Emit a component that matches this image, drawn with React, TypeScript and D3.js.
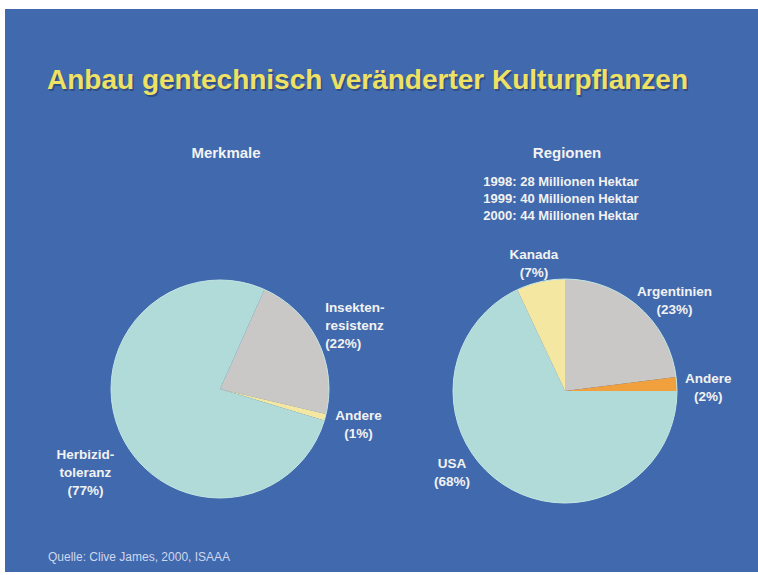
import * as d3 from "d3";
import { useEffect, useRef } from "react";

// Merkmale (left pie)
const merkmaleLabels = ["Insekten-\nresistenz", "Andere", "Herbizid-\ntoleranz"];
const merkmaleValues = [22, 1, 77];
const merkmaleColors = ["#c9c8c6", "#f4e7a2", "#b0dbd8"];

// Regionen (right pie)
const regionenLabels = ["Argentinien", "Andere", "USA", "Kanada"];
const regionenValues = [23, 2, 68, 7];
const regionenColors = ["#c9c8c6", "#f0a03c", "#b0dbd8", "#f4e7a2"];

const hektarLines = [
  "1998: 28 Millionen Hektar",
  "1999: 40 Millionen Hektar",
  "2000: 44 Millionen Hektar",
];

const title = "Anbau gentechnisch veränderter Kulturpflanzen";
const source = "Quelle: Clive James, 2000, ISAAA";

const W = 758;
const H = 575;
const rad = (deg: number) => (deg * Math.PI) / 180;

const App = () => {
  const ref = useRef<SVGSVGElement>(null);

  useEffect(() => {
    const svg = d3.select(ref.current);
    svg.selectAll("*").remove();

    svg.append("rect").attr("width", W).attr("height", H).attr("fill", "#ffffff");
    svg.append("rect")
      .attr("x", 5).attr("y", 9)
      .attr("width", W - 5).attr("height", 563)
      .attr("fill", "#4169ad");

    const font = "'Liberation Sans', Arial, sans-serif";

    svg.append("text")
      .attr("x", 47).attr("y", 89)
      .attr("font-family", font).attr("font-weight", "bold").attr("font-size", 28)
      .attr("fill", "#22335a").attr("opacity", 0.5)
      .attr("transform", "translate(1.5,1.5)")
      .text(title);
    svg.append("text")
      .attr("x", 47).attr("y", 89)
      .attr("font-family", font).attr("font-weight", "bold").attr("font-size", 28)
      .attr("fill", "#efe163")
      .text(title);

    const drawPie = (opts: {
      cx: number; cy: number; r: number; start: number;
      labels: string[]; values: number[]; colors: string[];
      place: { da: number; rf: number; anchor?: string }[];
    }) => {
      const pie = d3.pie<number>().sort(null).value(d => d)
        .startAngle(rad(opts.start)).endAngle(rad(opts.start) + 2 * Math.PI);
      const arcs = pie(opts.values);
      const arc = d3.arc<d3.PieArcDatum<number>>().innerRadius(0).outerRadius(opts.r);
      const g = svg.append("g").attr("transform", `translate(${opts.cx},${opts.cy})`);
      g.selectAll("path").data(arcs).enter().append("path")
        .attr("d", arc)
        .attr("fill", (_, i) => opts.colors[i]);
      g.append("circle").attr("r", opts.r).attr("fill", "none")
        .attr("stroke", "#c4e6e4").attr("stroke-width", 1);

      arcs.forEach((a, i) => {
        const mid = (a.startAngle + a.endAngle) / 2 + rad(opts.place[i].da);
        const R = opts.r * opts.place[i].rf;
        const lines = (opts.labels[i] + "\n(" + opts.values[i] + "%)").split("\n");
        const x = Math.sin(mid) * R;
        const y = -Math.cos(mid) * R;
        const lh = 18;
        const t = g.append("text")
          .attr("font-family", font).attr("font-weight", "bold").attr("font-size", 13.5)
          .attr("fill", "#f2f2f2").attr("text-anchor", opts.place[i].anchor ?? "middle");
        lines.forEach((l, j) => {
          t.append("tspan").attr("x", x)
            .attr("y", y + (j - (lines.length - 1) / 2) * lh + 5)
            .text(l);
        });
      });
    };

    drawPie({
      cx: 220, cy: 389, r: 109, start: 24,
      labels: merkmaleLabels, values: merkmaleValues, colors: merkmaleColors,
      place: [{ da: -5, rf: 1.13, anchor: "start" }, { da: -1, rf: 1.31 }, { da: -7, rf: 1.45 }],
    });
    drawPie({
      cx: 565, cy: 391, r: 112, start: 0,
      labels: regionenLabels, values: regionenValues, colors: regionenColors,
      place: [{ da: 9, rf: 1.27 }, { da: 2, rf: 1.28 }, { da: 22, rf: 1.24 }, { da: -1, rf: 1.18 }],
    });

    svg.append("text")
      .attr("x", 226).attr("y", 158)
      .attr("font-family", font).attr("font-weight", "bold").attr("font-size", 15)
      .attr("fill", "#f2f2f2").attr("text-anchor", "middle")
      .text("Merkmale");
    svg.append("text")
      .attr("x", 567).attr("y", 158)
      .attr("font-family", font).attr("font-weight", "bold").attr("font-size", 15)
      .attr("fill", "#f2f2f2").attr("text-anchor", "middle")
      .text("Regionen");

    hektarLines.forEach((l, i) => {
      svg.append("text")
        .attr("x", 561).attr("y", 186 + i * 17)
        .attr("font-family", font).attr("font-weight", "bold").attr("font-size", 13)
        .attr("fill", "#f2f2f2").attr("text-anchor", "middle")
        .text(l);
    });

    svg.append("text")
      .attr("x", 48).attr("y", 561)
      .attr("font-family", font).attr("font-size", 12)
      .attr("fill", "#cfd8ee")
      .text(source);
  }, []);

  return (
    <svg ref={ref} width={W} height={H}
      style={{ position: "absolute", left: 0, top: 0 }} />
  );
};

export default App;
